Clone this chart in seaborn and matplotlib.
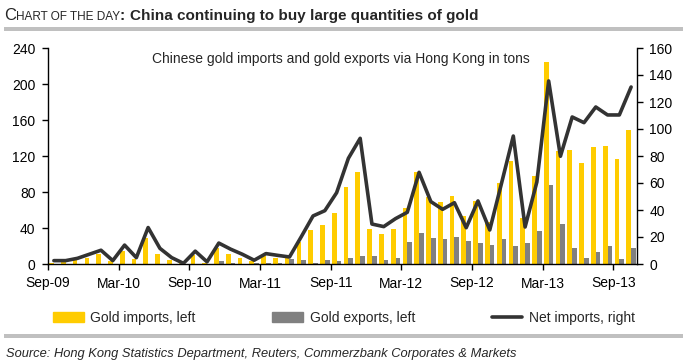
import numpy as np
import pandas as pd
import matplotlib.pyplot as plt
import seaborn as sns
from matplotlib.patches import Patch, Rectangle
from matplotlib.lines import Line2D

# monthly categories Sep-09 .. Oct-13
months = pd.date_range('2009-09-01', periods=50, freq='MS').strftime('%b-%y').tolist()
tick_labels = ['Sep-09', 'Mar-10', 'Sep-10', 'Mar-11', 'Sep-11',
               'Mar-12', 'Sep-12', 'Mar-13', 'Sep-13']

# tons
gold_imports = [1.5, 2.5, 4, 7, 11, 3.7, 14.5, 6, 28.5, 11,
                4.4, 0.7, 10.5, 1.5, 18, 11, 6.7, 3.7, 8.5, 7,
                10.2, 24.8, 37.8, 43.3, 56.7, 85.6, 102.2, 38.9, 33.3, 38.9,
                62, 102.2, 75, 68.8, 75.2, 53, 70, 46.5, 90, 114,
                51, 97.4, 224, 125.2, 126.7, 112, 129.7, 130.8, 116.3, 148.5]
gold_exports = [0, 0, 0, 0, 0, 0, 0, 0, 0, 0,
                0, 0, 0, 0, 3.5, 1, 0.3, 0.7, 0.7, 0.7,
                5.3, 4.4, 1.1, 4.4, 3.3, 6.7, 8.9, 8.9, 4.4, 6.8,
                24.4, 34.4, 29.3, 28, 30.2, 25.6, 23.5, 21, 27.8, 20,
                23.5, 36.5, 87.4, 44.5, 17.4, 6.3, 13, 19.7, 5.2, 17.4]
net_imports = [2.5, 2.5, 4.2, 7.2, 10.2, 2.5, 14, 4.7, 27, 11.6,
               4.7, 0.5, 9.5, 1.6, 15.5, 11, 7.2, 2.8, 7.7, 6.4,
               5.2, 20.2, 35.6, 39.5, 52.8, 78.3, 93.1, 29.6, 27.7, 33.6,
               38.3, 67.9, 46.2, 40.5, 45.4, 26.9, 46.7, 25.2, 59.8, 94.8,
               27.4, 60.8, 135.6, 79.8, 108.9, 104.7, 116.3, 110.4, 110.4, 131.1]

YELLOW = '#FFCC00'
GREY = '#808080'
LINE = '#333333'
W, H = 685, 363

sns.set_theme(style='ticks')
plt.rcParams['font.family'] = ['Liberation Sans', 'DejaVu Sans']
plt.rcParams['font.size'] = 10

fig = plt.figure(figsize=(W / 100, H / 100), dpi=100)
ax = fig.add_axes([48 / W, 1 - 264 / H, (637 - 48) / W, (264 - 48) / H])

df = pd.DataFrame({
    'month': months * 2,
    'tons': gold_imports + gold_exports,
    'series': ['Gold imports, left'] * len(months) + ['Gold exports, left'] * len(months),
})
sns.barplot(data=df, x='month', y='tons', hue='series', palette=[YELLOW, GREY],
            saturation=1, width=0.8, linewidth=0, legend=False, ax=ax)

ax2 = ax.twinx()
sns.lineplot(x=np.arange(len(months)), y=net_imports, color=LINE, linewidth=2.6, ax=ax2)

ax.set_xlim(-0.5, len(months) - 0.5)
ax.set_ylim(0, 240)
ax.set_yticks(range(0, 241, 40))
ax2.set_ylim(0, 160)
ax2.set_yticks(range(0, 161, 20))
ax.set_xticks(np.arange(-0.5, 48, 6))
ax.set_xticklabels(tick_labels)
ax.set_xlabel('')
ax.set_ylabel('')
ax2.set_ylabel('')

for a in (ax, ax2):
    a.tick_params(length=4, width=1, color='black', labelsize=10, pad=5, labelcolor='black')
    for s in a.spines.values():
        s.set_color('black')
        s.set_linewidth(1)
    a.spines['top'].set_visible(False)
ax.spines['right'].set_visible(False)
ax2.spines['left'].set_visible(False)
ax2.spines['bottom'].set_visible(False)

fig.text(152 / W, 1 - 59 / H, 'Chinese gold imports and gold exports via Hong Kong in tons',
         fontsize=10, va='center', ha='left')

# title with small caps prefix
fig.canvas.draw()
r = fig.canvas.get_renderer()
x = 4
for txt, size, weight in [('C', 12, 'normal'), ('HART OF THE DAY', 8.5, 'normal'),
                          (': ', 11, 'bold'),
                          ('China continuing to buy large quantities of gold', 11, 'bold')]:
    t = fig.text(x / W, 1 - 20 / H, txt, fontsize=size, fontweight=weight, va='baseline', ha='left')
    x = t.get_window_extent(r).x1

fig.add_artist(Rectangle((4 / W, 1 - 31 / H), 679 / W, 4 / H, transform=fig.transFigure,
                         color='#C0C0C0', lw=0))
fig.add_artist(Rectangle((4 / W, 1 - 338 / H), 679 / W, 4 / H, transform=fig.transFigure,
                         color='#C0C0C0', lw=0))

handles = [Patch(color=YELLOW), Patch(color=GREY), Line2D([], [], color=LINE, lw=2.6)]
labels = ['Gold imports, left', 'Gold exports, left', 'Net imports, right']
fig.legend(handles, labels, loc='center left', bbox_to_anchor=(53 / W, 1 - 318 / H),
           ncol=3, frameon=False, fontsize=10, handlelength=2.2, handleheight=0.8,
           handletextpad=0.5, columnspacing=5.5, borderpad=0, borderaxespad=0)

fig.text(6 / W, 1 - 354 / H,
         'Source: Hong Kong Statistics Department, Reuters, Commerzbank Corporates & Markets',
         fontsize=9.3, style='italic', va='center', ha='left')

fig.savefig('out.png', dpi=100)
